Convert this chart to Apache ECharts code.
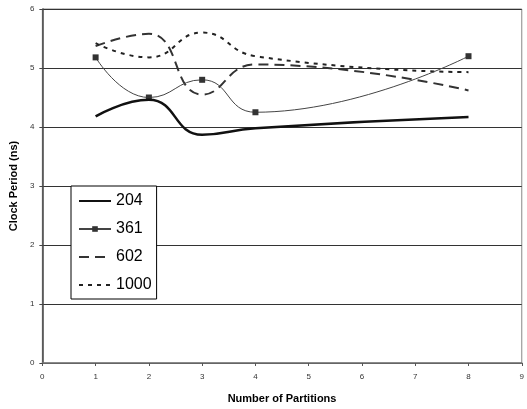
<!DOCTYPE html>
<html><head><meta charset="utf-8">
<script src="https://cdn.jsdelivr.net/npm/echarts@6/dist/echarts.min.js"></script>
<style>html,body{margin:0;padding:0;background:#fff}#c{width:527px;height:409px}</style>
</head><body><div id="c"></div>
<script>
const partitions = [1, 2, 3, 4, 8];
const s204 = [4.18, 4.46, 3.87, 3.98, 4.17];
const s361 = [5.18, 4.50, 4.80, 4.25, 5.20];
const s602 = [5.37, 5.58, 4.55, 5.06, 4.62];
const s1000 = [5.42, 5.18, 5.60, 5.20, 4.93];
const names = ['204', '361', '602', '1000'];
const xTicks = [0,1,2,3,4,5,6,7,8,9];
const yTicks = [0,1,2,3,4,5,6];

const pair = arr => partitions.map((x,i)=>[x, arr[i]]);
const chart = echarts.init(document.getElementById('c'));
const font = 'Liberation Sans, Arial, sans-serif';
chart.setOption({
  animation: false,
  grid: {left: 42, right: 1, top: 9, bottom: 46, show: true, borderColor: '#888', borderWidth: 1},
  legend: {
    orient: 'vertical', left: 71, top: 186,
    data: names.map(n => n === '361' ? {name: n} : {name: n, itemStyle: {opacity: 0}}),
    backgroundColor: '#fff', borderColor: '#000', borderWidth: 1,
    padding: [6, 5, 5, 7], itemGap: 10, itemWidth: 32, itemHeight: 7,
    textStyle: {fontFamily: font, fontSize: 16, color: '#000', lineHeight: 18}
  },
  xAxis: {
    type: 'value', min: 0, max: 9, interval: 1,
    name: 'Number of Partitions', nameLocation: 'middle', nameGap: 30,
    nameTextStyle: {fontFamily: font, fontSize: 11, fontWeight: 'bold', color: '#000'},
    axisLine: {lineStyle: {color: '#777', width: 1.5}},
    axisTick: {show: true, length: 3, inside: false, lineStyle: {color: '#555'}},
    axisLabel: {fontFamily: font, fontSize: 8, color: '#333', margin: 10,
      formatter: v => xTicks.includes(v) ? String(v) : ''},
    splitLine: {show: false}
  },
  yAxis: {
    type: 'value', min: 0, max: 6, interval: 1,
    name: 'Clock Period (ns)', nameLocation: 'middle', nameGap: 23,
    nameTextStyle: {fontFamily: font, fontSize: 11, fontWeight: 'bold', color: '#000'},
    axisLine: {lineStyle: {color: '#444', width: 1.5}},
    axisTick: {show: true, length: 3, lineStyle: {color: '#444'}},
    axisLabel: {fontFamily: font, fontSize: 8, color: '#333', margin: 8,
      formatter: v => yTicks.includes(v) ? String(v) : ''},
    splitLine: {lineStyle: {color: '#333', width: 1}}
  },
  series: [
    {name: '204', type: 'line', data: pair(s204), smooth: 0.5, symbol: 'none',
      lineStyle: {color: '#111', width: 2.5}, itemStyle: {color: '#111'}, z: 5},
    {name: '361', type: 'line', data: pair(s361), smooth: 0.5, symbol: 'rect', symbolSize: 6,
      lineStyle: {color: '#444', width: 1}, itemStyle: {color: '#333'}, z: 4},
    {name: '602', type: 'line', data: pair(s602), smooth: 0.5, symbol: 'none',
      lineStyle: {color: '#333', width: 2, type: [10, 6]}, itemStyle: {color: '#333'}, z: 3},
    {name: '1000', type: 'line', data: pair(s1000), smooth: 0.5, symbol: 'none',
      lineStyle: {color: '#222', width: 2, type: [4, 5]}, itemStyle: {color: '#222'}, z: 3}
  ]
});
</script></body></html>
